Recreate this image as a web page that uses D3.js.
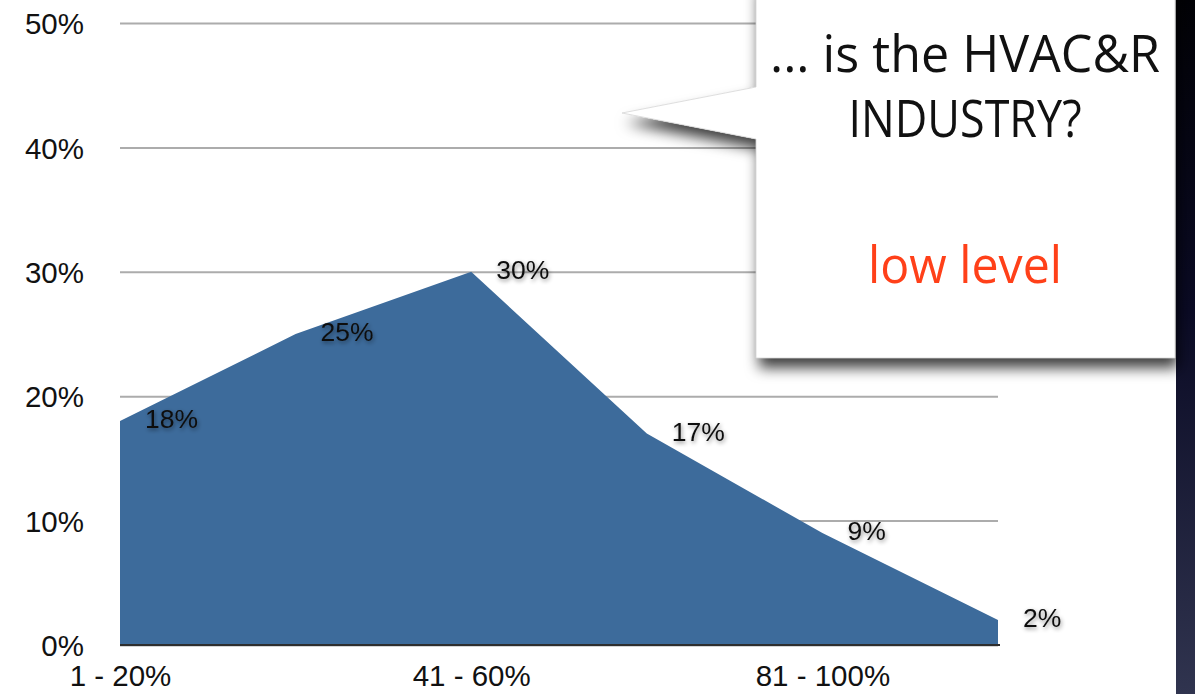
<!DOCTYPE html>
<html>
<head>
<meta charset="utf-8">
<script src="https://cdn.jsdelivr.net/npm/d3@7"></script>
<style>
  html, body { margin: 0; padding: 0; background: #ffffff; }
  svg { display: block; }
</style>
</head>
<body>
<svg id="chart" width="1195" height="694"></svg>
<script>
// Share of respondents per range
const categories = ["1 - 20%", "21 - 40%", "41 - 60%", "61 - 80%", "81 - 100%", "> 100%"];
const shares = [18, 25, 30, 17, 9, 2];
const shownCategories = ["1 - 20%", "41 - 60%", "81 - 100%"];
const yTicks = [0, 10, 20, 30, 40, 50];
const calloutLines = ["... is the HVAC&R", "INDUSTRY?"];
const calloutAnswer = "low level";

const svg = d3.select("#chart");
const W = 1195, H = 694;
const plotLeft = 120, plotRight = 998, plotTop = 23, plotBottom = 645;

const x = d3.scalePoint().domain(categories).range([plotLeft, plotRight]);
const y = d3.scaleLinear().domain([0, 50]).range([plotBottom, plotTop]);

const defs = svg.append("defs");

// soft shadow behind value labels
const lblShadow = defs.append("filter").attr("id", "lblShadow")
  .attr("x", "-30%").attr("y", "-50%").attr("width", "160%").attr("height", "200%");
lblShadow.append("feDropShadow")
  .attr("dx", 1).attr("dy", 2).attr("stdDeviation", 2)
  .attr("flood-color", "#000").attr("flood-opacity", 0.45);

// callout shadow
const boxShadow = defs.append("filter").attr("id", "boxShadow")
  .attr("x", "-20%").attr("y", "-20%").attr("width", "140%").attr("height", "140%");
boxShadow.append("feDropShadow")
  .attr("dx", 3).attr("dy", 10).attr("stdDeviation", 7)
  .attr("flood-color", "#000").attr("flood-opacity", 0.75);

// dark backdrop strip gradient
const grad = defs.append("linearGradient").attr("id", "strip")
  .attr("x1", 0).attr("y1", 0).attr("x2", 0).attr("y2", 1);
grad.append("stop").attr("offset", "0%").attr("stop-color", "#010105");
grad.append("stop").attr("offset", "45%").attr("stop-color", "#0a0a24");
grad.append("stop").attr("offset", "100%").attr("stop-color", "#30344f");

svg.append("rect").attr("x", 1176).attr("y", 0).attr("width", W - 1176).attr("height", H)
  .attr("fill", "url(#strip)");

// y axis with full-width gridlines
const yAxis = d3.axisLeft(y)
  .tickValues(yTicks)
  .tickFormat(d => d + "%")
  .tickSizeInner(-(plotRight - plotLeft))
  .tickSizeOuter(0)
  .tickPadding(36);

const gy = svg.append("g").attr("transform", `translate(${plotLeft},0)`).call(yAxis);
gy.select(".domain").remove();
gy.selectAll(".tick line").attr("stroke", "#acacac").attr("stroke-width", 2);
gy.selectAll(".tick text")
  .attr("font-family", "'Liberation Sans', Arial, Helvetica, sans-serif")
  .attr("font-size", 29.5).attr("fill", "#111").attr("dy", "0.36em");

// area
const area = d3.area()
  .x((d, i) => x(categories[i]))
  .y0(y(0))
  .y1(d => y(d));

svg.append("path").datum(shares)
  .attr("d", area)
  .attr("fill", "#3d6b9b");

// baseline
svg.append("line")
  .attr("x1", plotLeft).attr("x2", plotRight + 2)
  .attr("y1", y(0)).attr("y2", y(0))
  .attr("stroke", "#2e2e2e").attr("stroke-width", 2);

// x axis labels
const xAxis = d3.axisBottom(x)
  .tickValues(shownCategories)
  .tickSize(0)
  .tickPadding(20);
const gx = svg.append("g").attr("transform", `translate(0,${plotBottom})`).call(xAxis);
gx.select(".domain").remove();
gx.selectAll(".tick text")
  .attr("font-family", "'Liberation Sans', Arial, Helvetica, sans-serif")
  .attr("font-size", 29.5).attr("fill", "#111");

// value labels
svg.append("g").selectAll("text")
  .data(shares)
  .join("text")
  .attr("x", (d, i) => x(categories[i]) + 25)
  .attr("y", d => y(d) + 7)
  .attr("font-family", "'Liberation Sans', Arial, Helvetica, sans-serif")
  .attr("font-size", 26.5)
  .attr("fill", "#111")
  .attr("filter", "url(#lblShadow)")
  .text(d => d + "%");

// callout bubble
const bx0 = 756, bx1 = 1175, by0 = -20, by1 = 358;
const tip = [622, 113];
const bubble = d3.path();
bubble.moveTo(bx0, by0);
bubble.lineTo(bx1, by0);
bubble.lineTo(bx1, by1);
bubble.lineTo(bx0, by1);
bubble.lineTo(bx0, 139);
bubble.lineTo(tip[0], tip[1]);
bubble.lineTo(bx0, 87);
bubble.closePath();

svg.append("path")
  .attr("d", bubble.toString())
  .attr("fill", "#ffffff")
  .attr("filter", "url(#boxShadow)");
svg.append("path")
  .attr("d", bubble.toString())
  .attr("fill", "#ffffff")
  .attr("stroke", "#d6d6d6")
  .attr("stroke-width", 0.8);

const calloutFont = "'Open Sans', 'Noto Sans', sans-serif";
const lineSpec = [
  { text: calloutLines[0], y: 72, w: 390, color: "#111" },
  { text: calloutLines[1], y: 137, w: 233, color: "#111" },
  { text: calloutAnswer, y: 283, w: 194, color: "#ff4019" }
];
svg.append("g").selectAll("text")
  .data(lineSpec)
  .join("text")
  .attr("x", 965)
  .attr("y", d => d.y)
  .attr("text-anchor", "middle")
  .attr("font-family", calloutFont)
  .attr("font-weight", 400)
  .attr("font-size", 52)
  .attr("textLength", d => d.w)
  .attr("lengthAdjust", "spacingAndGlyphs")
  .attr("fill", d => d.color)
  .text(d => d.text);
</script>
</body>
</html>
